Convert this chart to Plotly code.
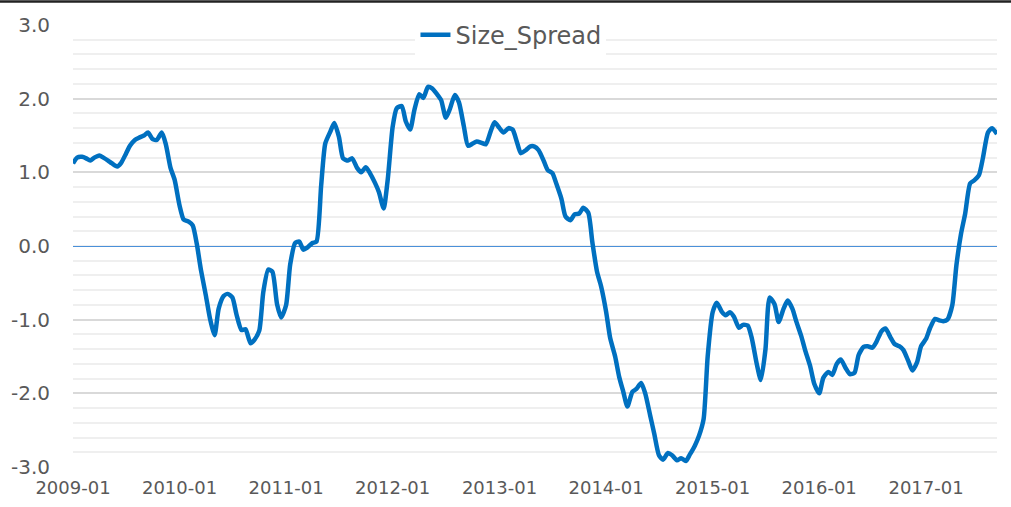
import pandas as pd
import plotly.graph_objects as go

# Semi-monthly observations, 2009-01 .. 2017-09
dates = pd.date_range("2009-01-01", "2017-09-01", freq="SMS")

size_spread = [
    1.12, 1.20, 1.21, 1.19, 1.16, 1.20, 1.23, 1.20, 1.16, 1.12,
    1.08, 1.13, 1.25, 1.36, 1.44, 1.47, 1.50, 1.54, 1.45, 1.44,
    1.54, 1.38, 1.06, 0.90, 0.55, 0.36, 0.33, 0.28, 0.03, -0.32,
    -0.67, -0.98, -1.21, -0.85, -0.68, -0.65, -0.70, -0.93, -1.14, -1.13,
    -1.32, -1.27, -1.15, -0.62, -0.32, -0.35, -0.79, -0.97, -0.80, -0.25,
    0.04, 0.06, -0.05, -0.02, 0.04, 0.06, 0.82, 1.39, 1.55, 1.67,
    1.48, 1.19, 1.16, 1.19, 1.06, 1.00, 1.07, 0.99, 0.86, 0.73,
    0.51, 0.90, 1.62, 1.87, 1.90, 1.69, 1.58, 1.84, 2.06, 2.01,
    2.16, 2.14, 2.06, 1.98, 1.74, 1.86, 2.05, 1.95, 1.62, 1.36,
    1.39, 1.42, 1.40, 1.38, 1.55, 1.68, 1.60, 1.54, 1.60, 1.58,
    1.42, 1.26, 1.30, 1.35, 1.35, 1.30, 1.16, 1.03, 0.99, 0.84,
    0.64, 0.40, 0.35, 0.43, 0.44, 0.52, 0.45, 0.05, -0.35, -0.55,
    -0.89, -1.25, -1.50, -1.78, -1.98, -2.18, -1.98, -1.94, -1.86, -2.00,
    -2.30, -2.55, -2.84, -2.90, -2.81, -2.84, -2.91, -2.88, -2.92, -2.83,
    -2.71, -2.58, -2.35, -1.50, -0.90, -0.77, -0.89, -0.94, -0.90, -0.96,
    -1.11, -1.07, -1.08, -1.25, -1.60, -1.82, -1.40, -0.70, -0.79, -1.03,
    -0.85, -0.74, -0.85, -1.03, -1.23, -1.43, -1.63, -1.87, -2.00, -1.79,
    -1.71, -1.75, -1.60, -1.54, -1.66, -1.74, -1.72, -1.48, -1.37, -1.36,
    -1.38, -1.30, -1.16, -1.12, -1.24, -1.33, -1.36, -1.41, -1.56, -1.69,
    -1.58, -1.36, -1.26, -1.11, -0.99, -1.01, -1.02, -1.00, -0.80, -0.26,
    0.17, 0.44, 0.85, 0.89, 0.96, 1.20, 1.54, 1.60, 1.52,
]

series_name = "Size_Spread"
y_ticks = [-3.0, -2.0, -1.0, 0.0, 1.0, 2.0, 3.0]
y_tick_labels = ["-3.0", "-2.0", "-1.0", "0.0", "1.0", "2.0", "3.0"]

W, H = 1011, 507
ML, MR, MT, MB = 73, 14, 25, 40
FONT = "'DejaVu Sans', sans-serif"
GRAY = "#595959"

fig = go.Figure()
fig.add_trace(go.Scatter(
    x=dates[:len(size_spread)], y=size_spread, mode="lines", name=series_name,
    line=dict(color="#0070C0", width=4.5, shape="spline", smoothing=0.6),
))

fig.update_layout(
    width=W, height=H,
    margin=dict(l=ML, r=MR, t=MT, b=MB, autoexpand=False),
    paper_bgcolor="white", plot_bgcolor="white",
    font=dict(family=FONT, color=GRAY, size=18),
    showlegend=True,
    legend=dict(orientation="h", x=0.474, xanchor="center", y=0.977, yanchor="middle",
                font=dict(size=24, color=GRAY), bgcolor="rgba(255,255,255,1)",
                borderwidth=0, itemwidth=30),
    xaxis=dict(
        type="date", automargin=False,
        range=[dates[0], dates[len(size_spread) - 1]],
        tick0="2009-01-01", dtick="M12", tickformat="%Y-%m",
        showgrid=False, zeroline=False, showline=False,
        ticks="", ticklabelstandoff=8,
        tickfont=dict(size=18, color=GRAY),
    ),
    yaxis=dict(
        range=[-3.0, 3.0], automargin=False,
        tickvals=y_ticks, ticktext=y_tick_labels,
        showgrid=True, gridcolor="#d9d9d9", gridwidth=1.5,
        minor=dict(dtick=0.2, tick0=0, showgrid=True, gridcolor="#efefef", gridwidth=1.5),
        zeroline=True, zerolinecolor="#4a90d9", zerolinewidth=1,
        showline=False, ticks="", ticklabelstandoff=22,
        tickfont=dict(size=20, color=GRAY),
    ),
)

# thin dark border at the very top of the image
ph = H - MT - MB
pw = W - ML - MR
fig.add_shape(type="line", xref="paper", yref="paper",
              x0=-ML / pw, x1=(W - ML) / pw,
              y0=1 + (MT - 1.5) / ph, y1=1 + (MT - 1.5) / ph,
              line=dict(color="#222222", width=2.5))

fig.write_html("out.html", config={"displayModeBar": False},
               post_script="document.body.style.margin='0';document.body.style.overflow='hidden';")
